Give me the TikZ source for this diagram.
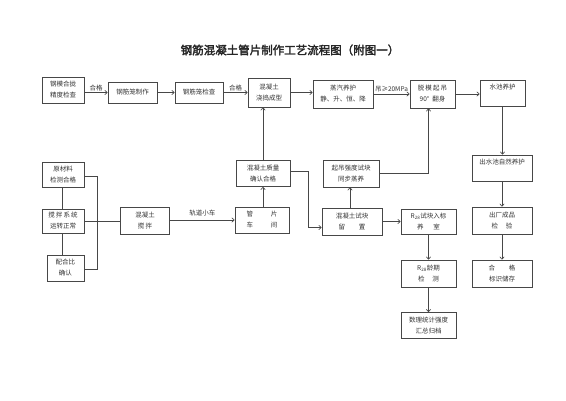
\documentclass[tikz,border=0pt]{standalone}
\usepackage{fontspec}
\setmainfont{Liberation Serif}
\newfontfamily\cjk[AutoFakeBold=2.5]{Noto Sans CJK SC}
\usetikzlibrary{arrows.meta}
\begin{document}
\begin{tikzpicture}[x=1pt,y=-1pt,
 bx/.style={draw=black!72,line width=0.6pt,font=\cjk\fontsize{6.5}{11}\selectfont,align=center,inner sep=0pt,text=black!80},
 ar/.style={draw=black!72,line width=0.6pt,-{Straight Barb[length=2.5pt,width=4.5pt]}},
 ln/.style={draw=black!72,line width=0.6pt},
 lb/.style={font=\cjk\fontsize{6.5}{8}\selectfont,inner sep=1.5pt,text=black!80}]
\useasboundingbox[fill=white] (0,0) rectangle (566,400);

\node[font=\cjk\bfseries\fontsize{11.5}{14}\selectfont,text=black!85] (title) at (290,50) {钢筋混凝土管片制作工艺流程图（附图一）};

% row 1
\node[bx,minimum width=42pt,minimum height=26pt] (mh) at (63,90) {钢模合拢\\精度检查};
\node[bx,minimum width=49pt,minimum height=21pt] (zz) at (132.5,92.5) {钢筋笼制作};
\node[bx,minimum width=48pt,minimum height=21pt] (jc) at (199,92.5) {钢筋笼检查};
\node[bx,minimum width=42pt,minimum height=29pt] (jd) at (269,92.5) {混凝土\\浇捣成型};
\node[bx,minimum width=60pt,minimum height=28pt] (zq) at (343,94) {蒸汽养护\\静、升、恒、降};
\node[bx,minimum width=45pt,minimum height=28pt] (tm) at (432.5,94) {脱\,模\,起\,吊\\90°\ \ 翻身};
\node[bx,minimum width=45pt,minimum height=26pt] (sc) at (502.5,93) {水池养护\\\phantom{水}};

% left column
\node[bx,minimum width=42pt,minimum height=25pt] (ycl) at (63,174.5) {原材料\\检测合格};
\node[bx,minimum width=42pt,minimum height=24pt] (jb) at (63,221) {搅\,拌\,系\,统\\运转正常};
\node[bx,minimum width=37pt,minimum height=26pt] (phb) at (65.5,268) {配合比\\确认};
\node[bx,minimum width=49pt,minimum height=27pt] (hjb) at (145,220.5) {混凝土\\搅\ 拌};

% middle
\node[bx,minimum width=54pt,minimum height=26pt] (gp) at (262,220) {管\hspace{18pt}片\\车\hspace{18pt}间};
\node[bx,minimum width=54pt,minimum height=26pt] (zl) at (263,173.5) {混凝土质量\\确认合格};
\node[bx,minimum width=56pt,minimum height=27pt] (qd) at (351,173.5) {起吊强度试块\\同步蒸养};
\node[bx,minimum width=60pt,minimum height=27pt] (sk) at (352,221.5) {混凝土试块\\留\hspace{14pt}置};
\node[bx,minimum width=55pt,minimum height=25pt] (r28) at (428.5,221.5) {R\textsubscript{28}试块入标\\养\hspace{10pt}室};
\node[bx,minimum width=55pt,minimum height=27pt] (lq) at (428.5,273.5) {R\textsubscript{28}龄期\\检\hspace{8pt}测};
\node[bx,minimum width=55pt,minimum height=26pt] (sl) at (428.5,325.5) {数理统计强度\\汇总归档};

% right column
\node[bx,minimum width=60pt,minimum height=26pt] (cs) at (502,168) {出水池自然养护\\\phantom{水}};
\node[bx,minimum width=60pt,minimum height=27pt] (cc) at (502,220.5) {出厂成品\\检\hspace{8pt}验};
\node[bx,minimum width=60pt,minimum height=27pt] (hg) at (502,273.5) {合\hspace{14pt}格\\标识储存};

% row 1 connectors
\draw[ar] (mh.east|-zz.west) -- node[lb,above] {合格} (zz.west);
\draw[ar] (zz.east) -- (jc.west);
\draw[ar] (jc.east) -- node[lb,above] {合格} (jc.east-|jd.west);
\draw[ar] (jd.east) -- (jd.east-|zq.west);
\draw[ar] (zq.east) -- node[lb,above] {吊≥20MPa} (tm.west);
\draw[ar] (tm.east) -- (tm.east-|sc.west);
\draw[ar] (sc.south) -- (sc.south|-cs.north);
\draw[ar] (cs.south) -- (cc.north);
\draw[ar] (cc.south) -- (hg.north);

% left bracket
\draw[ln] ([xshift=-1pt]ycl.south) -- ([xshift=-1pt]ycl.south|-jb.north);
\draw[ln] ([xshift=-1pt]jb.south) -- ([xshift=-1pt]jb.south|-phb.north);
\coordinate (br) at (97,176);
\draw[ln] ([yshift=-1.5pt]ycl.east) -| (br) |- ([yshift=-1pt]phb.east);
\draw[ln] (jb.east) -- (jb.east-|hjb.west);

% middle connectors
\draw[ar] (hjb.east|-gp.west) -- node[lb,above,yshift=2pt] {轨道小车} (gp.west);
\draw[ar] (gp.north-|zl.north) -- (zl.south);
\draw[ar] (zl.north) -- (zl.north|-jd.south);
\coordinate (zr) at (308,171);
\draw[ar] (zl.east|-zr) -- (zr) |- ([yshift=-6pt]sk.west);
\draw[ar] ([xshift=-2pt]sk.north) -- ([xshift=-2pt]sk.north|-qd.south);
\draw[ar] (qd.east) -| ([xshift=-4pt]tm.south);
\draw[ar] (sk.east) -- (r28.west);
\draw[ar] (r28.south) -- (lq.north);
\draw[ar] (lq.south) -- (sl.north);
\end{tikzpicture}
\end{document}
